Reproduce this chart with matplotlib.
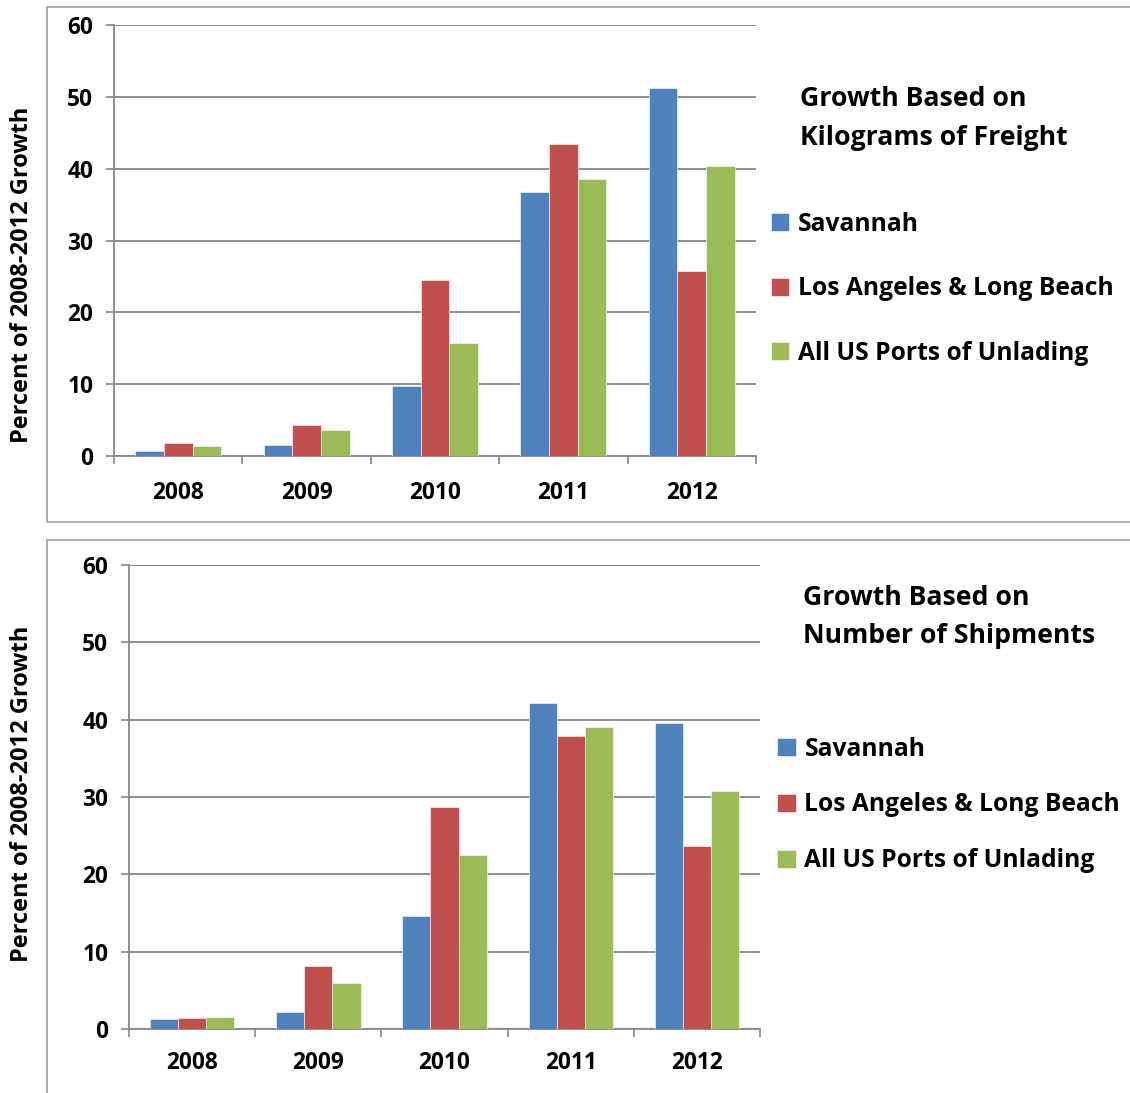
import matplotlib
matplotlib.use('Agg')
import matplotlib.pyplot as plt
from matplotlib.patches import Rectangle
import numpy as np

# values
years = ['2008', '2009', '2010', '2011', '2012']
series_names = ['Savannah', 'Los Angeles & Long Beach', 'All US Ports of Unlading']

kg_savannah = [0.7, 1.5, 9.7, 36.8, 51.2]
kg_la_lb = [1.8, 4.3, 24.5, 43.4, 25.8]
kg_all_us = [1.4, 3.6, 15.8, 38.6, 40.4]

ship_savannah = [1.3, 2.2, 14.6, 42.2, 39.6]
ship_la_lb = [1.4, 8.1, 28.7, 37.9, 23.7]
ship_all_us = [1.5, 5.9, 22.5, 39.1, 30.8]

colors = ['#4F81BD', '#C0504D', '#9BBB59']
grid_color = '#868686'
frame_color = '#A6A6A6'

plt.rcParams['font.family'] = ['Open Sans', 'DejaVu Sans']
plt.rcParams['font.weight'] = 'bold'

fig = plt.figure(figsize=(11.30, 10.93), dpi=100)

# outer chart frames, like the spreadsheet chart areas
fig.add_artist(Rectangle((0.0416, 0.5224), 1.0, 0.4712, transform=fig.transFigure,
                         fill=False, edgecolor=frame_color, linewidth=1.3))
fig.add_artist(Rectangle((0.0416, -0.05), 1.0, 0.556, transform=fig.transFigure,
                         fill=False, edgecolor=frame_color, linewidth=1.3))


def DrawPanel(rect, values, title_lines, title_xy, legend_xy, ylabel_y, legend_spacing, xpad):
    ax = fig.add_axes(rect)
    x = np.arange(len(years))
    width = 0.223
    bars = []
    for i, vals in enumerate(values):
        b = ax.bar(x + (i - 1) * width, vals, width=width, color=colors[i],
                   edgecolor='white', linewidth=0.4, zorder=3)
        bars.append(b)

    ax.set_xlim(-0.5, len(years) - 0.5)
    ax.set_ylim(0, 60)
    ax.set_yticks(range(0, 61, 10))
    ax.set_yticklabels([str(v) for v in range(0, 61, 10)], fontsize=16.3, fontweight='bold')
    ax.set_xticks(np.arange(-0.5, len(years), 1))
    ax.set_xticklabels([])
    ax.set_xticks(x, minor=True)
    ax.set_xticklabels(years, minor=True, fontsize=16.3, fontweight='bold')
    ax.tick_params(axis='x', which='major', direction='out', length=6, width=1.2, color=grid_color)
    ax.tick_params(axis='x', which='minor', length=0, pad=xpad)
    ax.tick_params(axis='y', direction='out', length=6, width=1.2, color=grid_color, pad=9)

    ax.yaxis.grid(True, color=grid_color, linewidth=1.3, zorder=0)
    ax.set_axisbelow(True)
    for side in ['top', 'right']:
        ax.spines[side].set_visible(False)
    ax.spines['left'].set_color(grid_color)
    ax.spines['bottom'].set_color(grid_color)
    ax.spines['left'].set_linewidth(1.3)
    ax.spines['bottom'].set_linewidth(1.3)

    fig.text(0.0195, ylabel_y, 'Percent of 2008-2012 Growth', rotation=90,
             fontsize=17, fontweight='bold', ha='center', va='center')

    fig.text(title_xy[0], title_xy[1], '\n'.join(title_lines), fontsize=19.2,
             fontweight='bold', va='top', ha='left', linespacing=1.63)

    fig.legend(bars, series_names, loc='upper left', bbox_to_anchor=legend_xy,
               frameon=False, handlelength=0.75, handleheight=0.75,
               handletextpad=0.35, labelspacing=legend_spacing, borderpad=0, borderaxespad=0,
               prop={'weight': 'bold', 'size': 17.7})
    return ax


DrawPanel([0.1009, 0.5828, 0.5681, 0.3943],
          [kg_savannah, kg_la_lb, kg_all_us],
          ['Growth Based on', 'Kilograms of Freight'],
          (0.708, 0.921), (0.682, 0.806), 0.749, 1.6, 18)

DrawPanel([0.1142, 0.0586, 0.5584, 0.4245],
          [ship_savannah, ship_la_lb, ship_all_us],
          ['Growth Based on', 'Number of Shipments'],
          (0.711, 0.465), (0.688, 0.326), 0.2736, 1.25, 16)

plt.savefig('out.png', dpi=100)
